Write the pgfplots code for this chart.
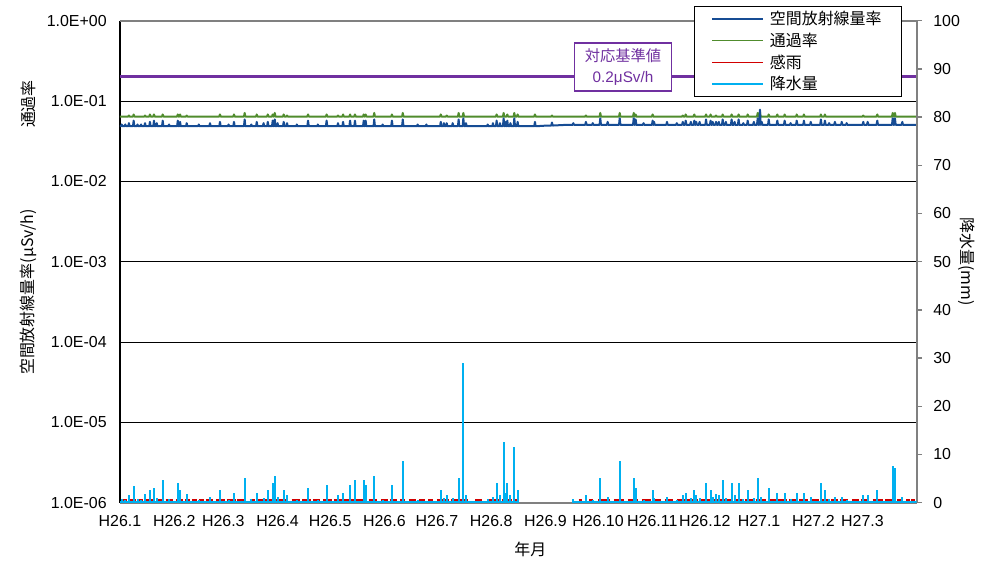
\documentclass[border=0pt]{standalone}
\usepackage{fontspec}
\setmainfont{Liberation Sans}
\newfontfamily\cjk{Noto Sans CJK JP}
\usepackage{pgfplots}
\pgfplotsset{compat=1.18}

\definecolor{doseblue}{RGB}{22,76,148}
\definecolor{passgreen}{RGB}{80,140,45}
\definecolor{rainred}{RGB}{210,0,0}
\definecolor{precip}{RGB}{0,176,240}
\definecolor{limitpurple}{RGB}{112,48,160}

\pgfplotsset{
  base/.style={
    scale only axis, width=597.5bp, height=361.5bp,
    at={(0,0)}, anchor=south west,
    xmin=0, xmax=455,
    clip mode=individual,
    tick label style={font=\fontsize{12}{14}\selectfont},
    /pgf/number format/assume math mode=true,
  },
}

\begin{document}
\begin{tikzpicture}
\path[use as bounding box] (-90bp,-45.25bp) rectangle (660bp,377bp);

% left axis: dose rate and transmission (log)
\begin{axis}[base,
  ymode=log, ymin=1e-6, ymax=1,
  axis x line*=bottom, axis y line*=left,
  x axis line style={-, draw=gray, line width=1.5bp},
  y axis line style={-, draw=black, line width=1.1bp},
  xtick={0,31,59,90,120,151,181,212,243,273,304,334,365,396,424},
  xticklabels={H26.1,H26.2,H26.3,H26.4,H26.5,H26.6,H26.7,H26.8,H26.9,H26.10,H26.11,H26.12,H27.1,H27.2,H27.3},
  ytick={1e-6,1e-5,1e-4,1e-3,1e-2,1e-1,1},
  yticklabels={1.0E-06,1.0E-05,1.0E-04,1.0E-03,1.0E-02,1.0E-01,1.0E+00},
  xtick style={draw=none}, ytick style={draw=none},
  xticklabel style={yshift=-6bp},
  yticklabel style={xshift=-6.5bp},
  ymajorgrids, major grid style={black, line width=0.75bp},
]
% 対応基準値 0.2 uSv/h
\addplot[limitpurple, line width=2bp] coordinates {(0,0.2) (455,0.2)};

% 通過率
\addplot[passgreen, line width=1.5bp, line join=round] coordinates {
(0,.064)
(4.7,.064)(5.1,.066)(5.5,.064) (7.4,.064)(7.8,.068)(8.2,.064) (13.9,.064)(14.3,.066)(14.7,.064)
(16.7,.064)(17.1,.068)(17.5,.064) (19.0,.064)(19.4,.068)(19.8,.064) (24.0,.064)(24.4,.068)(24.8,.064)
(32.6,.064)(33,.068)(33.4,.064) (33.9,.064)(34.3,.068)(34.7,.064) (37.7,.064)(38.1,.066)(38.5,.064)
(56.7,.064)(57.1,.068)(57.5,.064) (64.7,.064)(65.1,.068)(65.5,.064) (70.8,.064)(71.2,.071)(71.6,.064)
(77.7,.064)(78.1,.068)(78.5,.064) (84.0,.064)(84.4,.068)(84.8,.064) (86.8,.064)(87.2,.068)(87.6,.064)
(88.0,.064)(88.4,.071)(88.8,.064) (93.1,.064)(93.5,.068)(93.9,.064) (95.0,.064)(95.4,.066)(95.8,.064)
(107.0,.064)(107.4,.068)(107.8,.064) (117.6,.064)(118,.068)(118.4,.064) (124.1,.064)(124.5,.066)(124.9,.064)
(127.0,.064)(127.4,.068)(127.8,.064) (131.0,.064)(131.4,.068)(131.8,.064) (133.8,.064)(134.2,.068)(134.6,.064)
(138.8,.064)(139.2,.068)(139.6,.064) (139.9,.064)(140.3,.068)(140.7,.064) (144.8,.064)(145.2,.071)(145.6,.064)
(154.9,.064)(155.3,.068)(155.7,.064) (161.1,.064)(161.5,.071)(161.9,.064) (182.8,.064)(183.2,.068)(183.6,.064)
(186.2,.064)(186.6,.066)(187.0,.064) (193.0,.064)(193.4,.071)(193.8,.064) (195.7,.064)(196.1,.071)(196.5,.064)
(214.7,.064)(215.1,.068)(215.5,.064) (218.7,.064)(219.1,.071)(219.5,.064) (220.8,.064)(221.2,.068)(221.6,.064)
(224.8,.064)(225.2,.071)(225.6,.064) (226.7,.064)(227.1,.068)(227.5,.064) (236.6,.064)(237,.068)(237.4,.064)
(246.3,.064)(246.7,.066)(247.1,.064) (265.7,.064)(266.1,.066)(266.5,.064) (273.9,.064)(274.3,.071)(274.7,.064)
(285.0,.064)(285.4,.071)(285.8,.064) (293.0,.064)(293.4,.071)(293.8,.064) (294.1,.064)(294.5,.068)(294.9,.064)
(303.8,.064)(304.2,.068)(304.6,.064) (321.0,.064)(321.4,.066)(321.8,.064) (322.7,.064)(323.1,.068)(323.5,.064)
(327.6,.064)(328,.068)(328.4,.064) (334.3,.064)(334.7,.068)(335.1,.064) (336.9,.064)(337.3,.068)(337.7,.064)
(340.0,.064)(340.4,.066)(340.8,.064) (343.8,.064)(344.2,.068)(344.6,.064) (348.9,.064)(349.3,.068)(349.7,.064)
(352.9,.064)(353.3,.068)(353.7,.064) (358.1,.064)(358.5,.068)(358.9,.064) (363.8,.064)(364.2,.071)(364.6,.064)
(365.1,.064)(365.5,.073)(365.9,.064) (370.1,.064)(370.5,.068)(370.9,.064) (375.0,.064)(375.4,.068)(375.8,.064)
(379.2,.064)(379.6,.068)(380.0,.064) (386.1,.064)(386.5,.068)(386.9,.064) (390.2,.064)(390.6,.068)(391.0,.064)
(399.9,.064)(400.3,.068)(400.7,.064) (402.2,.064)(402.6,.068)(403.0,.064) (424.1,.064)(424.5,.066)(424.9,.064)
(432.1,.064)(432.5,.068)(432.9,.064) (440.9,.064)(441.3,.071)(441.7,.064) (442.2,.064)(442.6,.071)(443.0,.064)
(455,.064)
};

% 空間放射線量率
\addplot[doseblue, line width=1.5bp, line join=round] coordinates {
(0,.0485)
(0.6,.0485)(1.0,.051)(1.4,.0485) (2.6,.0485)(3.0,.051)(3.4,.0485) (4.7,.0485)(5.1,.053)(5.5,.0485)
(7.4,.0485)(7.8,.057)(8.2,.0485) (9.6,.0485)(10,.051)(10.4,.0485) (11.6,.0485)(12,.051)(12.4,.0485)
(13.9,.0485)(14.3,.053)(14.7,.0485) (16.7,.0485)(17.1,.055)(17.5,.0485) (19.0,.0485)(19.4,.057)(19.8,.0485)
(20.6,.0485)(21,.053)(21.4,.0485) (24.0,.0485)(24.4,.057)(24.8,.0485) (27.6,.0485)(28,.051)(28.4,.0485)
(32.6,.0485)(33,.057)(33.4,.0485) (33.9,.0485)(34.3,.055)(34.7,.0485) (37.7,.0485)(38.1,.053)(38.5,.0485)
(44.6,.0485)(45,.051)(45.4,.0485) (51.0,.0485)(51.4,.053)(51.8,.0485) (56.7,.0485)(57.1,.055)(57.5,.0485)
(61.6,.0485)(62,.051)(62.4,.0485) (64.7,.0485)(65.1,.055)(65.5,.0485) (70.8,.0485)(71.2,.059)(71.6,.0485)
(74.6,.0485)(75,.051)(75.4,.0485) (77.7,.0485)(78.1,.055)(78.5,.0485) (81.6,.0485)(82,.053)(82.4,.0485)
(84.0,.0485)(84.4,.055)(84.8,.0485) (86.8,.0485)(87.2,.057)(87.6,.0485) (88.0,.0485)(88.4,.059)(88.8,.0485)
(89.6,.0485)(90,.053)(90.4,.0485) (93.1,.0485)(93.5,.055)(93.9,.0485) (95.0,.0485)(95.4,.053)(95.8,.0485)
(100.6,.0485)(101,.051)(101.4,.0485) (107.0,.0485)(107.4,.057)(107.8,.0485) (112.6,.0485)(113,.051)(113.4,.0485)
(117.6,.0485)(118,.057)(118.4,.0485) (124.1,.0485)(124.5,.053)(124.9,.0485) (127.0,.0485)(127.4,.055)(127.8,.0485)
(131.0,.0485)(131.4,.057)(131.8,.0485) (133.8,.0485)(134.2,.057)(134.6,.0485) (138.8,.0485)(139.2,.057)(139.6,.0485)
(139.9,.0485)(140.3,.057)(140.7,.0485) (144.8,.0485)(145.2,.059)(145.6,.0485) (149.6,.0485)(150,.051)(150.4,.0485)
(154.9,.0485)(155.3,.057)(155.7,.0485) (161.1,.0485)(161.5,.059)(161.9,.0485) (169.6,.0485)(170,.051)(170.4,.0485)
(174.6,.0485)(175,.051)(175.4,.0485) (182.8,.0485)(183.2,.055)(183.6,.0485) (184.6,.0485)(185,.053)(185.4,.0485)
(186.2,.0485)(186.6,.053)(187.0,.0485) (189.6,.0485)(190,.053)(190.4,.0485) (193.0,.0485)(193.4,.059)(193.8,.0485)
(195.7,.0485)(196.1,.061)(196.5,.0485) (197.2,.0485)(197.6,.053)(198.0,.0485) (209.6,.0485)(210,.051)(210.4,.0485)
(212.6,.0485)(213,.053)(213.4,.0485) (214.7,.0485)(215.1,.057)(215.5,.0485) (216.6,.0485)(217,.053)(217.4,.0485)
(218.7,.0485)(219.1,.061)(219.5,.0485) (219.6,.0485)(220,.055)(220.4,.0485) (220.8,.0485)(221.2,.057)(221.6,.0485)
(222.6,.0485)(223,.053)(223.4,.0485) (224.8,.0485)(225.2,.061)(225.6,.0485) (226.7,.0485)(227.1,.055)(227.5,.0485)
(236.6,.0485)(237,.055)(237.4,.0485) (244,.0495)(246.3,.0495)(246.7,.054)(247.1,.0495) (255,.0505)
(258.5,.0505)(258.9,.053)(259.3,.0505) (265.7,.0505)(266.1,.055)(266.5,.0505) (269.6,.0505)(270,.053)(270.4,.0505)
(273.9,.0505)(274.3,.061)(274.7,.0505) (278.1,.0505)(278.5,.055)(278.9,.0505) (285.0,.0505)(285.4,.061)(285.8,.0505)
(293.0,.0505)(293.4,.061)(293.8,.0505) (294.1,.0505)(294.5,.059)(294.9,.0505) (298.6,.0505)(299,.053)(299.4,.0505)
(303.8,.0505)(304.2,.057)(304.6,.0505) (304.7,.0505)(305,.055)(305.4,.0505) (312.0,.0505)(312.4,.055)(312.8,.0505)
(317.6,.0505)(318,.053)(318.4,.0505) (321.0,.0505)(321.4,.055)(321.8,.0505) (322.7,.0505)(323.1,.057)(323.5,.0505)
(325.6,.0505)(326,.055)(326.4,.0505) (327.6,.0505)(328,.057)(328.4,.0505) (328.7,.0505)(329.1,.055)(329.5,.0505)
(330.6,.0505)(331,.055)(331.4,.0505) (334.3,.0505)(334.7,.059)(335.1,.0505) (336.9,.0505)(337.3,.057)(337.7,.0505)
(338.1,.0505)(338.5,.055)(338.9,.0505) (340.0,.0505)(340.4,.055)(340.8,.0505) (341.6,.0505)(342,.055)(342.4,.0505)
(343.8,.0505)(344.2,.059)(344.6,.0505) (345.6,.0505)(346,.055)(346.4,.0505) (348.9,.0505)(349.3,.059)(349.7,.0505)
(350.6,.0505)(351,.055)(351.4,.0505) (352.9,.0505)(353.3,.059)(353.7,.0505) (355.6,.0505)(356,.053)(356.4,.0505)
(358.1,.0505)(358.5,.057)(358.9,.0505) (361.6,.0505)(362,.055)(362.4,.0505) (363.8,.0505)(364.2,.061)(364.6,.0505)
(365.1,.0505)(365.5,.078)(365.9,.0505) (366.1,.0505)(366.5,.055)(366.9,.0505) (370.1,.0505)(370.5,.059)(370.9,.0505)
(375.0,.0505)(375.4,.057)(375.8,.0505) (379.2,.0505)(379.6,.057)(380.0,.0505) (382.6,.0505)(383,.053)(383.4,.0505)
(386.1,.0505)(386.5,.057)(386.9,.0505) (390.2,.0505)(390.6,.057)(391.0,.0505) (394.1,.0505)(394.5,.055)(394.9,.0505)
(399.9,.0505)(400.3,.059)(400.7,.0505) (402.2,.0505)(402.6,.057)(403.0,.0505) (404.6,.0505)(405,.053)(405.4,.0505)
(407.9,.0505)(408.3,.055)(408.7,.0505) (411.8,.0505)(412.2,.055)(412.6,.0505) (414.6,.0505)(415,.053)(415.4,.0505)
(424.1,.0505)(424.5,.055)(424.9,.0505) (426.6,.0505)(427,.055)(427.4,.0505) (432.1,.0505)(432.5,.057)(432.9,.0505)
(440.9,.0505)(441.3,.061)(441.7,.0505) (442.2,.0505)(442.6,.061)(443.0,.0505) (446.4,.0505)(446.8,.055)(447.2,.0505)
(455,.0505)
};

\draw[gray, line width=1.5bp] (rel axis cs:0,1) -- (rel axis cs:1,1);

\node[draw=limitpurple, line width=0.9bp, fill=white, text=limitpurple, align=center,
      minimum width=73bp, minimum height=36bp, inner sep=2bp,
      font=\fontsize{11.5}{16.5}\selectfont]
  at (axis cs:287.3,0.265) {{\cjk 対応基準値}\\0.2μSv/h};

\node[rotate=90, font=\cjk\fontsize{12}{14}\selectfont] at (rel axis cs:0,0.827) [yshift=69bp] {通過率};
\node[rotate=90, font=\cjk\fontsize{12}{14}\selectfont] at (rel axis cs:0,0.437) [yshift=69bp] {空間放射線量率(μSv/h)};
\node[font=\cjk\fontsize{12}{14}\selectfont] at (rel axis cs:0.515,0) [yshift=-34.7bp] {年月};
\end{axis}

% right axis: rainfall
\begin{axis}[base,
  ymin=0, ymax=100,
  axis y line*=right, axis x line=none,
  y axis line style={-, draw=gray, line width=1.5bp},
  ytick={0,10,...,100},
  tick align=outside, major tick length=4bp,
  ytick style={gray, line width=1bp},
  yticklabel style={xshift=5bp},
  unbounded coords=jump,
  legend style={at={(0.9816,1.0305)}, anchor=north east, draw=black, line width=0.75bp,
    fill=white, font=\cjk\fontsize{12}{14}\selectfont, cells={anchor=west},
    inner xsep=13bp, inner ysep=1.5bp, row sep=0.8bp},
  legend image code/.code={\draw[#1, line width=1.1bp] (0bp,0bp) -- (38bp,0bp); \path (41bp,0bp);},
]
\addlegendimage{color=doseblue}\addlegendentry{空間放射線量率}
\addlegendimage{color=passgreen}\addlegendentry{通過率}
\addlegendimage{color=rainred}\addlegendentry{感雨}
\addlegendimage{color=precip}\addlegendentry{降水量}

% 感雨
\addplot[color=rainred, line width=1.6bp, forget plot] coordinates {
(1,.5)(4,.5)(4.5,nan)(5,.5)(9,.5)(9.5,nan)(10,.5)(13,.5)(13.5,nan)(14,.5)(20,.5)(20.5,nan)
(21,.5)(25,.5)(25.5,nan)(26,.5)(30,.5)(31,nan)(32,.5)(36,.5)(36.5,nan)(37,.5)(40,.5)(40.5,nan)
(41,.5)(44,.5)(44.5,nan)(45,.5)(48,.5)(48.5,nan)(49,.5)(53,.5)(54,nan)(55,.5)(60,.5)(60.5,nan)
(61,.5)(66,.5)(66.5,nan)(67,.5)(72,.5)(73,nan)(74,.5)(77,.5)(77.5,nan)(78,.5)(82,.5)(82.5,nan)
(83,.5)(90,.5)(90.5,nan)(91,.5)(96,.5)(97,nan)(98,.5)(103,.5)(103.5,nan)(104,.5)(109,.5)(109.5,nan)
(110,.5)(114,.5)(115,nan)(116,.5)(121,.5)(121.5,nan)(122,.5)(127,.5)(127.5,nan)(128,.5)(134,.5)(134.5,nan)
(135,.5)(141,.5)(141.5,nan)(142,.5)(147,.5)(148,nan)(149,.5)(153,.5)(153.5,nan)(154,.5)(158,.5)(159,nan)
(160,.5)(163,.5)(164,nan)(165,.5)(169,.5)(170,nan)(171,.5)(174,.5)(175,nan)(176,.5)(179,.5)(180,nan)
(181,.5)(188,.5)(188.5,nan)(189,.5)(193,.5)(193.5,nan)(194,.5)(199,.5)(201,nan)(203,.5)(207,.5)(208,nan)
(210,.5)(217,.5)(217.5,nan)(218,.5)(224,.5)(224.5,nan)(225,.5)(227,.5)(240,nan)
(262,.5)(264,.5)(266,nan)(268,.5)(270,.5)(271,nan)(273,.5)(280,.5)(281,nan)(282,.5)(288,.5)(289,nan)
(290,.5)(296,.5)(297,nan)(298,.5)(303,.5)(303.5,nan)(304,.5)(309,.5)(310,nan)(311,.5)(316,.5)(317,nan)
(318,.5)(323,.5)(323.5,nan)(324,.5)(330,.5)(330.5,nan)(331,.5)(337,.5)(337.5,nan)(338,.5)(344,.5)(344.5,nan)
(345,.5)(350,.5)(350.5,nan)(351,.5)(356,.5)(356.5,nan)(357,.5)(362,.5)(362.5,nan)(363,.5)(369,.5)(369.5,nan)
(370,.5)(375,.5)(375.5,nan)(376,.5)(381,.5)(381.5,nan)(382,.5)(387,.5)(387.5,nan)(388,.5)(393,.5)(393.5,nan)
(394,.5)(399,.5)(399.5,nan)(400,.5)(405,.5)(405.5,nan)(406,.5)(410,.5)(410.5,nan)(411,.5)(416,.5)(417,nan)
(418,.5)(422,.5)(422.5,nan)(423,.5)(428,.5)(429,nan)(430,.5)(436,.5)(436.5,nan)(437,.5)(443,.5)(443.5,nan)
(444,.5)(447,.5)(448,nan)(449,.5)(451,.5)(451.5,nan)(452,.5)(454,.5)
};

% 降水量 baseline
\addplot[color=precip, line width=1.5bp, forget plot] coordinates {(0,0.15)(227.5,0.15)(240,nan)(258.5,0.15)(455,0.15)};

% 降水量
\addplot[color=precip, ycomb, line width=1.5bp, mark=none, forget plot] coordinates {
(1.0,0.8)(3.0,0.6)(5.1,1.6)(7.8,3.5)(10,0.7)(12,0.5)(14.3,1.9)(17.1,2.6)(19.4,3.0)(21,1.0)
(24.4,4.7)(28,0.8)(33.0,4.0)(34.3,2.6)(38.1,1.9)(45,0.6)(51.4,1.1)(57.1,2.6)(62,0.6)(65.1,2.1)
(71.2,5.1)(75,0.8)(78.1,2.0)(82,1.0)(84.4,2.6)(87.2,4.0)(88.4,5.5)(90,1.2)(93.5,2.6)(95.4,1.6)
(101,0.5)(107.4,3.0)(113,0.6)(118.0,3.6)(124.5,1.6)(127.4,2.0)(131.4,3.6)(134.2,4.7)(139.2,4.7)
(140.3,3.6)(145.2,5.5)(150,0.6)(155.3,3.6)(161.5,8.6)(170,0.5)(175,0.4)(183.2,2.6)(185,1.0)
(186.6,1.6)(190,1.0)(193.4,5.1)(196.1,29.0)(197.6,1.6)(210,0.8)(213,1.2)(215.1,4.0)(217,1.5)
(219.1,12.6)(220,2.0)(221.2,4.0)(223,1.6)(225.2,11.5)(227.1,2.6)
(258.9,0.7)(266.1,1.6)(270,0.5)(274.3,5.1)(278.5,1.1)(285.4,8.6)(293.4,5.1)(294.5,3.1)(299,0.5)
(304.2,2.6)(305,1.0)(312.4,1.1)(318,0.6)(321.4,1.6)(323.1,2.0)(326,1.0)(328.0,2.6)(329.1,1.5)
(331,1.0)(334.7,4.0)(337.3,2.6)(338.5,1.2)(340.4,1.9)(342,1.5)(344.2,4.6)(346,1.0)(349.3,4.1)
(351,1.5)(353.3,4.1)(356,0.8)(358.5,2.6)(362,1.0)(364.2,5.1)(366,1.2)(370.5,3.1)(375.4,2.0)
(379.6,2.0)(383,0.8)(386.5,2.0)(390.6,2.0)(394.5,1.1)(400.3,4.1)(402.6,2.6)(405,0.8)(408.3,1.1)
(412.2,1.1)(415,0.6)(424.5,1.6)(427.0,1.6)(432.5,2.6)(441.3,7.6)(442.6,7.1)(446.8,1.1)
};

\node[rotate=-90, font=\cjk\fontsize{12}{14}\selectfont] at (rel axis cs:1,0.5) [yshift=37.7bp] {降水量(mm)};
\end{axis}
\end{tikzpicture}
\end{document}
